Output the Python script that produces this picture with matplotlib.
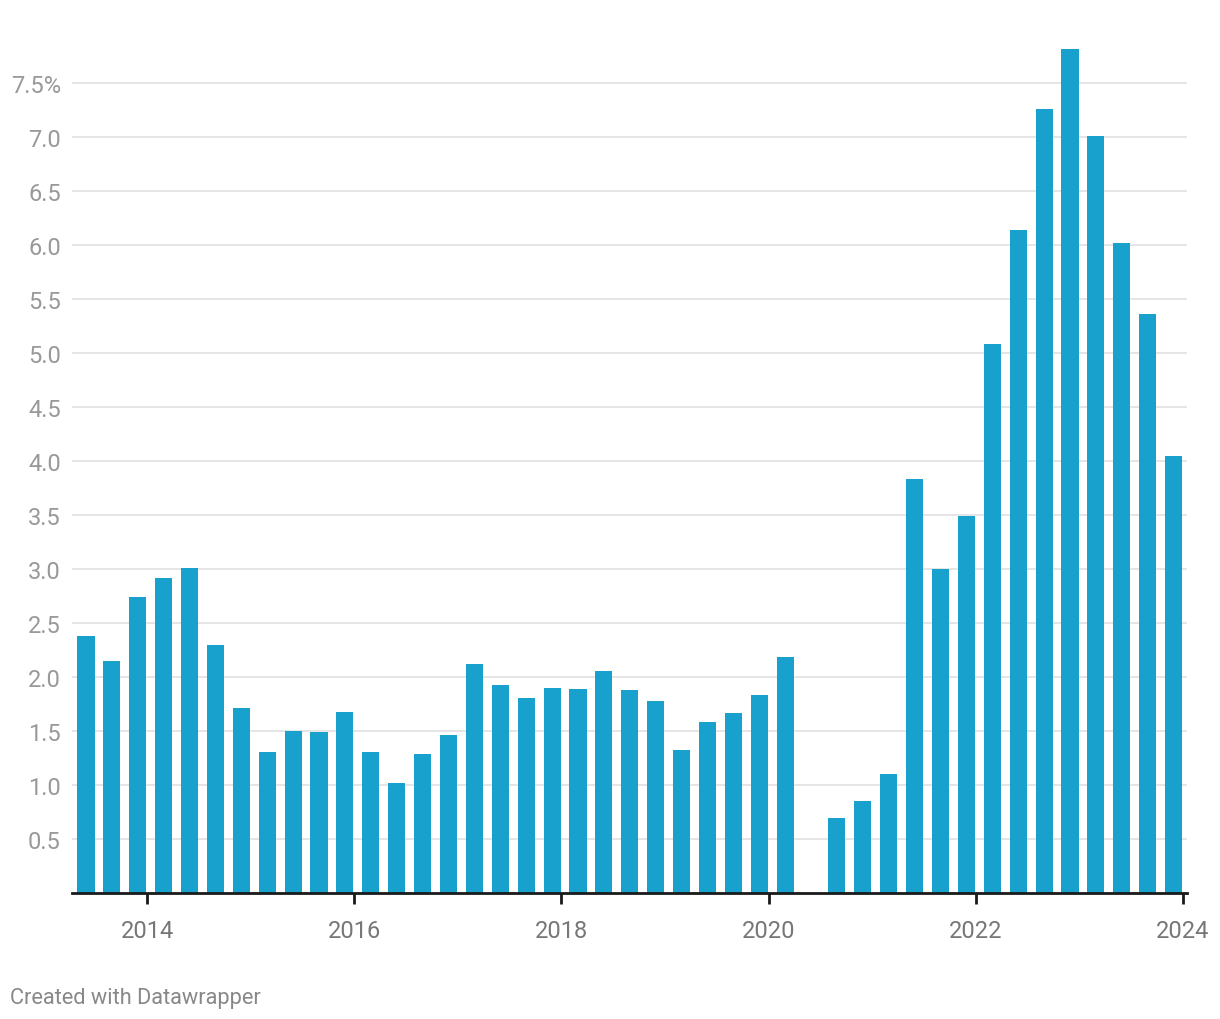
import matplotlib.pyplot as plt
import numpy as np

plt.rcParams['font.family'] = ['Roboto', 'DejaVu Sans']

# квартальные значения, %; пропуск во 2 кв. 2020
start_year = 2013.41
values = [2.38, 2.15, 2.74, 2.92, 3.01, 2.30, 1.71, 1.31, 1.50, 1.49, 1.68,
          1.31, 1.02, 1.29, 1.46, 2.12, 1.93, 1.81, 1.90, 1.89, 2.06, 1.88,
          1.78, 1.32, 1.58, 1.67, 1.83, 2.19, np.nan, 0.69, 0.85, 1.10, 3.83,
          3.00, 3.49, 5.08, 6.14, 7.26, 7.82, 7.01, 6.02, 5.36, 4.05]
y_ticks = [0.5, 1.0, 1.5, 2.0, 2.5, 3.0, 3.5, 4.0, 4.5, 5.0, 5.5, 6.0, 6.5, 7.0, 7.5]
y_labels = ['0.5', '1.0', '1.5', '2.0', '2.5', '3.0', '3.5', '4.0', '4.5', '5.0',
            '5.5', '6.0', '6.5', '7.0', '7.5%']
x_ticks = [2014, 2016, 2018, 2020, 2022, 2024]

x = start_year + 0.25 * np.arange(len(values))

fig = plt.figure(figsize=(12.2, 10.2), dpi=100)
ax = fig.add_axes([72 / 1220, 126 / 1020, (1187 - 72) / 1220, (893 - 40) / 1020])

ax.bar(x, np.nan_to_num(values), width=0.165, color='#18a1cd', zorder=2)

ax.set_xlim(2013.275, 2024.04)
ax.set_ylim(0, 7.9)

ax.set_yticks(y_ticks)
ax.set_yticklabels(y_labels)
ax.grid(axis='y', color='#e3e3e3', linewidth=1.3, zorder=0)
ax.tick_params(axis='y', length=0, pad=8, labelsize=17, labelcolor='#999999')

ax.set_xticks(x_ticks)
ax.tick_params(axis='x', length=8, width=2, color='#1a1a1a', pad=11,
               labelsize=17, labelcolor='#777777')

for side in ['top', 'right', 'left']:
    ax.spines[side].set_visible(False)
ax.spines['bottom'].set_color('#1a1a1a')
ax.spines['bottom'].set_linewidth(2)
ax.spines['bottom'].set_zorder(3)

fig.text(10 / 1220, 1 - 999 / 1020, 'Created with Datawrapper', fontsize=15.7,
         color='#888888', va='center', ha='left')

fig.savefig('out.png', dpi=100)
